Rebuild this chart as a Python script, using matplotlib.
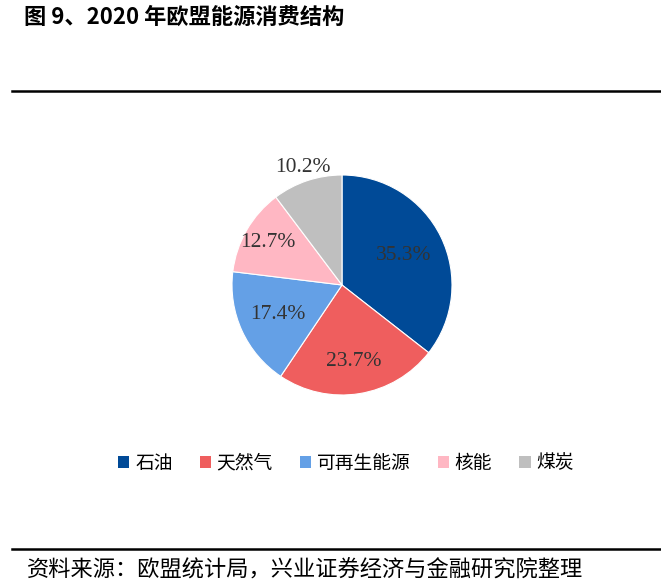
import matplotlib
matplotlib.use("Agg")
import matplotlib.pyplot as plt
from matplotlib.patches import Patch
import numpy as np

plt.rcParams['font.family'] = ['Noto Sans CJK SC', 'DejaVu Sans']

categories = ["石油", "天然气", "可再生能源", "核能", "煤炭"]
values = [35.3, 23.7, 17.4, 12.7, 10.2]
colors = ["#004A97", "#EF5E5E", "#64A0E6", "#FFB7C3", "#BFBFBF"]
label_dist = [0.62, 0.70, 0.64, 0.78, 1.13]

W, H = 661, 586
fig = plt.figure(figsize=(W / 100, H / 100), dpi=100)
fig.patch.set_facecolor("white")

# Title
fig.text(24 / W, 1 - 17 / H, "图 9、2020 年欧盟能源消费结构", fontsize=16,
         fontweight="bold", ha="left", va="center", color="black")

# Lines
fig.add_artist(plt.Line2D([12 / W, 1.0], [1 - 91 / H, 1 - 91 / H], color="black", lw=1.8))
fig.add_artist(plt.Line2D([12 / W, 1.0], [1 - 549 / H, 1 - 549 / H], color="black", lw=1.8))

# Pie
r = 110
cx, cy = 342, 285
ax = fig.add_axes([(cx - r) / W, 1 - (cy + r) / H, 2 * r / W, 2 * r / H])
wedges, _ = ax.pie(values, colors=colors, startangle=90, counterclock=False,
                   wedgeprops=dict(linewidth=0.8, edgecolor="white"))
ax.set_xlim(-1, 1)
ax.set_ylim(-1, 1)
ax.set_aspect("equal")
for w, v, d in zip(wedges, values, label_dist):
    ang = np.deg2rad((w.theta1 + w.theta2) / 2)
    ax.text(d * np.cos(ang), d * np.sin(ang), f"{v:.1f}%", ha="center", va="center",
            fontsize=15.5, family=["Liberation Serif"], color="#333333", clip_on=False)

# Legend
handles = [Patch(facecolor=c, edgecolor="none") for c in colors]
fig.legend(handles, categories, loc="center", bbox_to_anchor=(346 / W, 1 - 463 / H),
           ncol=5, frameon=False, fontsize=13.5, handlelength=0.6, handleheight=0.6,
           handletextpad=0.3, columnspacing=1.45)

# Source
fig.text(27 / W, 1 - 570 / H, "资料来源：欧盟统计局，兴业证券经济与金融研究院整理",
         fontsize=16, ha="left", va="center", color="black")

fig.savefig("out.png", dpi=100)
